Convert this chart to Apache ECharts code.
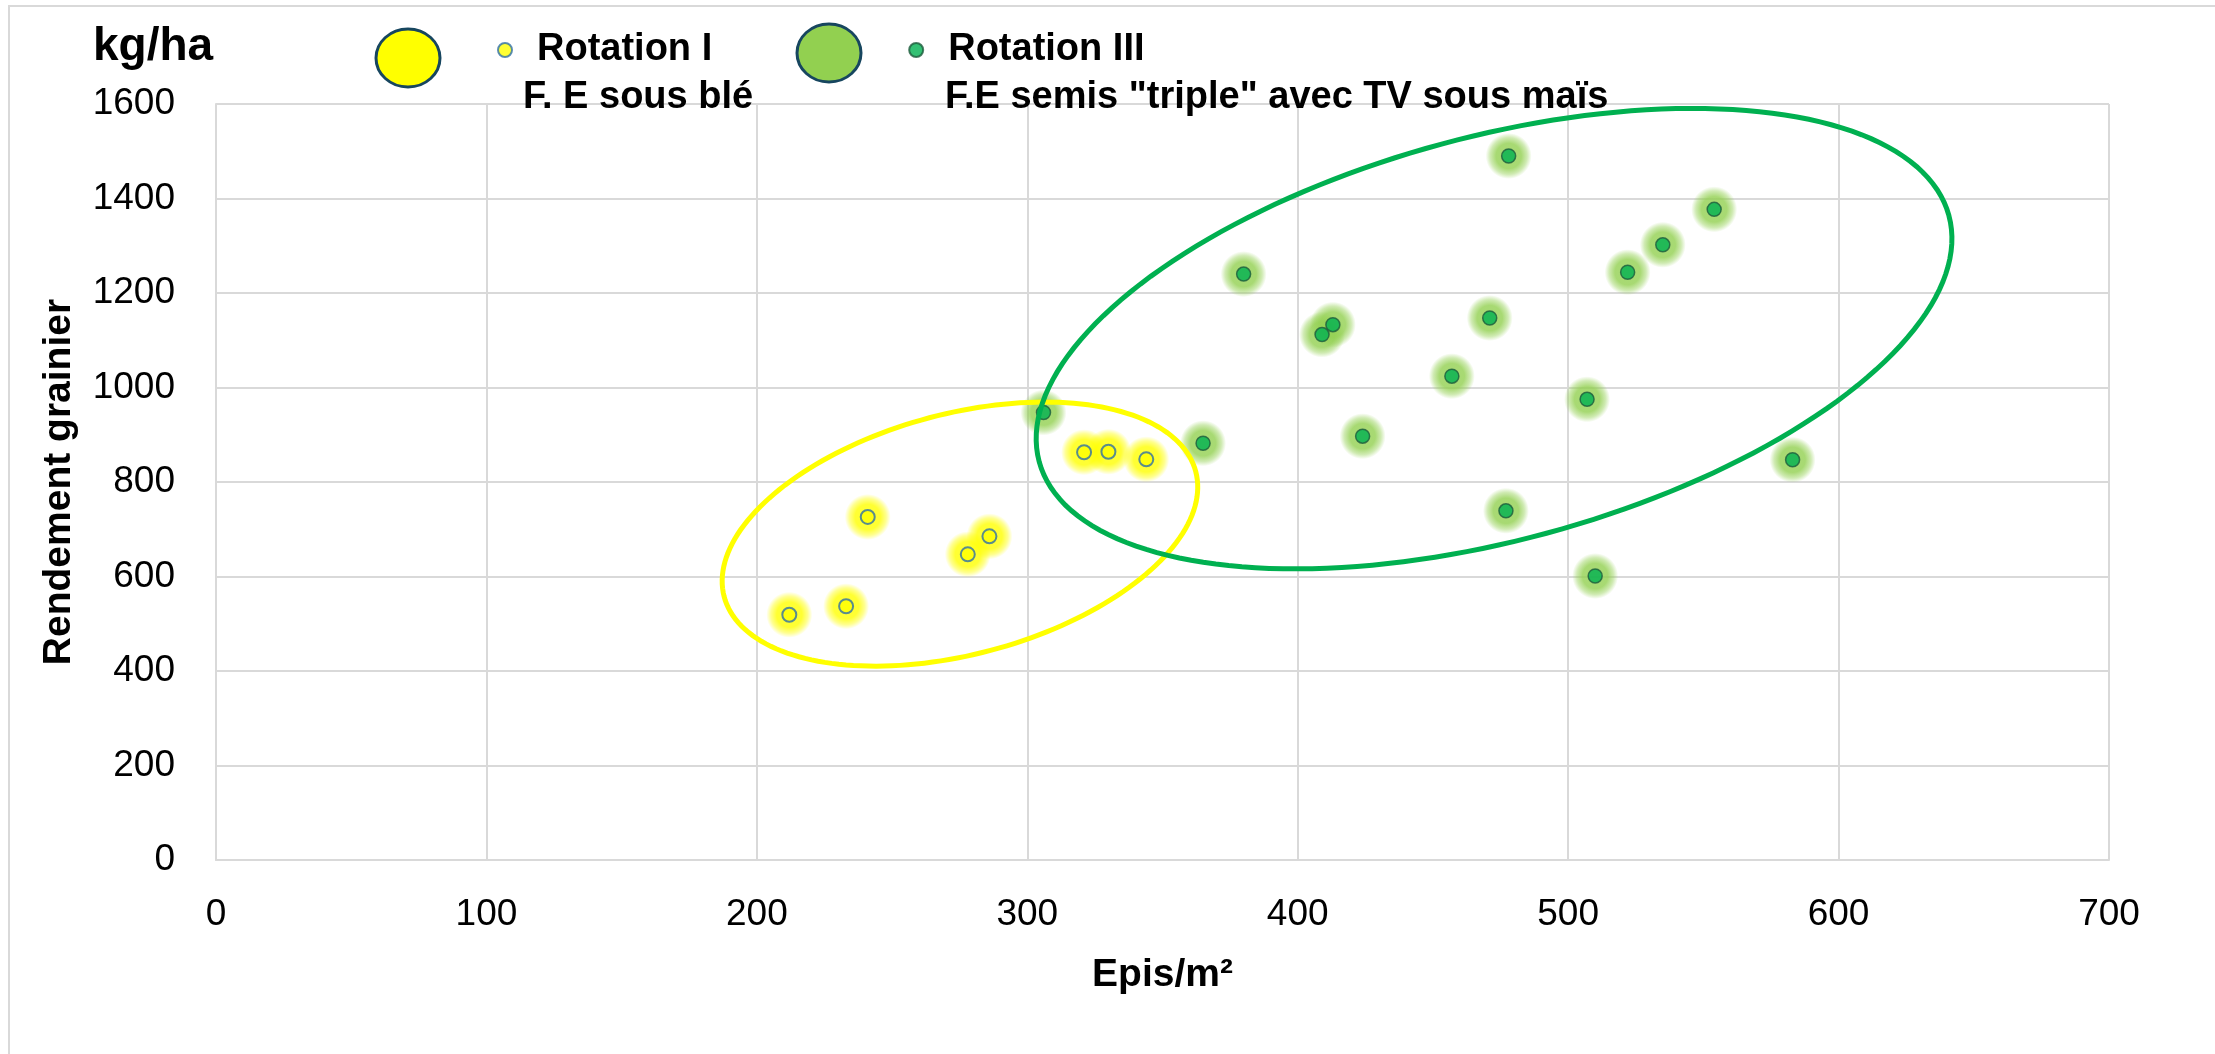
<!DOCTYPE html>
<html>
<head>
<meta charset="utf-8">
<title>Rendement grainier / Epis</title>
<script src="https://cdn.jsdelivr.net/npm/echarts/dist/echarts.min.js"></script>
<style>
    html, body { margin: 0; padding: 0; background: #fff; }
    #chart { width: 2215px; height: 1054px; }
</style>
</head>
<body>
<div id="chart"></div>
<script>
// Rotation I : F. E sous blé
const rotIx = [212, 233, 241, 278, 286, 321, 330, 344];
const rotIy = [519, 537, 726, 647, 685, 863, 864, 848];

// Rotation III : F.E semis "triple" avec TV sous maïs
const rotIIIx = [306, 365, 380, 409, 413, 424, 457, 471, 477, 478, 507, 510, 522, 535, 554, 583];
const rotIIIy = [947, 882, 1240, 1112, 1133, 897, 1024, 1147, 739, 1490, 975, 601, 1244, 1302, 1377, 847];

const xTicks = [0, 700, 100];     // min, max, step
const yTicks = [0, 1600, 200];

// hand-drawn ellipses round each group, in data units (centre, half major axis, half minor axis)
const ellipseCentre = [[275.1, 689.7], [472.6, 1103.4]];
const ellipseMajor = [[87.2, 132.2], [168.2, 260.4]];
const ellipseMinor = [[-11.3, 246.2], [-19.4, 411.8]];
const ellipseColors = ['#FFFF00', '#00B050'];

const font = 'Liberation Sans, Arial, sans-serif';

function pairs(xs, ys) {
    return xs.map((x, i) => [x, ys[i]]);
}

function glow(r, g, b) {
    var c = 'rgba(' + r + ',' + g + ',' + b + ',';
    return {
        type: 'radial', x: 0.5, y: 0.5, r: 0.5,
        colorStops: [
            { offset: 0, color: c + '1)' },
            { offset: 0.55, color: c + '1)' },
            { offset: 0.8, color: c + '0.55)' },
            { offset: 1, color: c + '0)' }
        ]
    };
}

var chart = echarts.init(document.getElementById('chart'));

chart.setOption({
    animation: false,
    backgroundColor: '#fff',
    grid: {
        left: 216,
        right: 106,
        top: 104,
        bottom: 194
    },
    legend: {
        data: ['Rotation I', 'Rotation III'],
        left: 492,
        top: 26,
        icon: 'circle',
        itemWidth: 14,
        itemHeight: 14,
        itemGap: 196,
        selectedMode: false,
        textStyle: {
            fontFamily: font,
            fontSize: 38,
            fontWeight: 'bold',
            color: '#000',
            padding: [0, 0, 0, 20]
        }
    },
    xAxis: {
        type: 'value',
        min: xTicks[0],
        max: xTicks[1],
        interval: xTicks[2],
        name: 'Epis/m²',
        nameLocation: 'middle',
        nameGap: 96,
        nameTextStyle: {
            fontFamily: font,
            fontSize: 39,
            fontWeight: 'bold',
            color: '#000'
        },
        axisLine: { show: true, lineStyle: { color: '#D9D9D9', width: 2 } },
        axisTick: { show: false },
        axisLabel: { fontFamily: font, fontSize: 37, color: '#000', margin: 36, formatter: v => String(v) },
        splitLine: { show: true, lineStyle: { color: '#D9D9D9', width: 2 } }
    },
    yAxis: {
        type: 'value',
        min: yTicks[0],
        max: yTicks[1],
        interval: yTicks[2],
        name: 'Rendement grainier',
        nameLocation: 'middle',
        nameGap: 137,
        nameTextStyle: {
            fontFamily: font,
            fontSize: 39,
            fontWeight: 'bold',
            color: '#000'
        },
        axisLine: { show: true, lineStyle: { color: '#D9D9D9', width: 2 } },
        axisTick: { show: false },
        axisLabel: { fontFamily: font, fontSize: 37, color: '#000', margin: 41, formatter: v => String(v) },
        splitLine: { show: true, lineStyle: { color: '#D9D9D9', width: 2 } }
    },
    series: [
        {
            name: 'glow I',
            type: 'scatter',
            silent: true,
            symbol: 'circle',
            symbolSize: 46,
            z: 1,
            itemStyle: { color: glow(255, 255, 0) },
            data: pairs(rotIx, rotIy)
        },
        {
            name: 'Rotation I',
            type: 'scatter',
            symbol: 'circle',
            symbolSize: 14,
            z: 2,
            itemStyle: { color: '#FFFF00', borderColor: '#2F6FA8', borderWidth: 2 },
            data: pairs(rotIx, rotIy)
        },
        {
            name: 'glow III',
            type: 'scatter',
            silent: true,
            symbol: 'circle',
            symbolSize: 46,
            z: 3,
            itemStyle: { color: glow(146, 208, 80) },
            data: pairs(rotIIIx, rotIIIy)
        },
        {
            name: 'Rotation III',
            type: 'scatter',
            symbol: 'circle',
            symbolSize: 14,
            z: 4,
            itemStyle: { color: '#00B050', borderColor: '#1D5B3C', borderWidth: 1.5 },
            data: pairs(rotIIIx, rotIIIy)
        },
        {
            name: 'ellipses',
            type: 'custom',
            silent: true,
            z: 5,
            data: ellipseCentre.map((c, i) => [c[0], c[1], i]),
            renderItem: function (params, api) {
                var i = api.value(2);
                var c = ellipseCentre[i], u = ellipseMajor[i], v = ellipseMinor[i];
                var pts = [];
                for (var k = 0; k < 180; k++) {
                    var t = k / 180 * 2 * Math.PI;
                    pts.push(api.coord([
                        c[0] + u[0] * Math.cos(t) + v[0] * Math.sin(t),
                        c[1] + u[1] * Math.cos(t) + v[1] * Math.sin(t)
                    ]));
                }
                return {
                    type: 'polygon',
                    shape: { points: pts },
                    style: { fill: 'transparent', stroke: ellipseColors[i], lineWidth: 5 }
                };
            }
        }
    ],
    graphic: [
        {
            type: 'rect',
            silent: true,
            z: 0,
            shape: { x: 9, y: 6, width: 2300, height: 1200 },
            style: { fill: 'transparent', stroke: '#D9D9D9', lineWidth: 2 }
        },
        {
            type: 'text',
            z: 100,
            style: { x: 93, y: 47, text: 'kg/ha', font: 'bold 46px ' + font, fill: '#000', verticalAlign: 'middle' }
        },
        {
            type: 'ellipse',
            z: 100,
            shape: { cx: 408, cy: 58, rx: 32, ry: 29 },
            style: { fill: '#FFFF00', stroke: '#17465F', lineWidth: 3 }
        },
        {
            type: 'ellipse',
            z: 100,
            shape: { cx: 829, cy: 53, rx: 32, ry: 29 },
            style: { fill: '#92D050', stroke: '#17465F', lineWidth: 3 }
        },
        {
            type: 'text',
            z: 100,
            style: { x: 523, y: 98, text: 'F. E sous blé', font: 'bold 38px ' + font, fill: '#000', verticalAlign: 'middle' }
        },
        {
            type: 'text',
            z: 100,
            style: { x: 945, y: 98, text: 'F.E semis "triple" avec TV sous maïs', font: 'bold 38px ' + font, fill: '#000', verticalAlign: 'middle' }
        }
    ]
});
</script>
</body>
</html>
